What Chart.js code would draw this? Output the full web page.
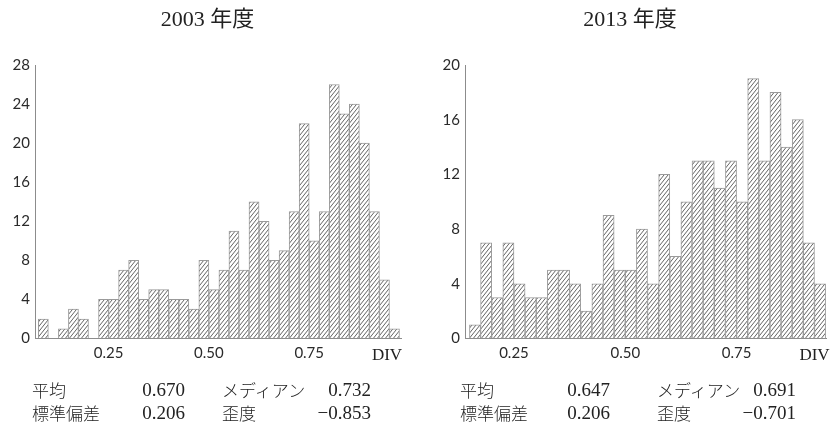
<!DOCTYPE html>
<html>
<head>
<meta charset="utf-8">
<script src="https://cdn.jsdelivr.net/npm/chart.js@4.4.1/dist/chart.umd.min.js"></script>
<style>
  html, body { margin: 0; padding: 0; background: #fff; }
  #wrap { position: relative; width: 832px; height: 424px; overflow: hidden; }
  #wrap canvas { position: absolute; top: 0; }
  .txt { position: absolute; white-space: nowrap; color: #222; line-height: 1; }
  .title { font-family: "Liberation Serif", "Noto Sans CJK JP", serif; font-size: 22px; transform: translate(-50%, -50%); }
  .axisname { font-family: "Liberation Serif", serif; font-size: 17px; transform: translate(-50%, -50%); }
  .jp { font-family: "Noto Sans CJK JP", sans-serif; font-size: 17px; font-weight: 300; transform: translateY(-50%); }
  .num { font-family: "Liberation Serif", serif; font-size: 19px; transform: translate(-100%, -50%); }
</style>
</head>
<body>
<div id="wrap">
  <canvas id="c2003" width="416" height="424" style="left:0"></canvas>
  <canvas id="c2013" width="416" height="424" style="left:416px"></canvas>
</div>
<script>
// Histogram bins (lower edge of first bin, common bin width)
const binWidth = 0.025;
const binStart2003 = 0.075;
const binStart2013 = 0.15;

// Frequencies per bin
const counts2003 = [2, 0, 1, 3, 2, 0, 4, 4, 7, 8, 4, 5, 5, 4, 4, 3, 8, 5, 7, 11,
                    7, 14, 12, 8, 9, 13, 22, 10, 13, 26, 23, 24, 20, 13, 6, 1];
const counts2013 = [1, 7, 3, 7, 4, 3, 3, 5, 5, 4, 2, 4, 9, 5, 5, 8, 4, 12, 6, 10,
                    13, 13, 11, 13, 10, 19, 13, 18, 14, 16, 7, 4];

// Axis ticks
const xTicks = [0.25, 0.50, 0.75];
const yTickStep = 4;
const yMax2003 = 28;
const yMax2013 = 20;

// Titles and summary statistics
const titles = ['2003 年度', '2013 年度'];
const axisName = 'DIV';
const statNames = ['平均', 'メディアン', '標準偏差', '歪度'];
const stats2003 = ['0.670', '0.732', '0.206', '−0.853'];
const stats2013 = ['0.647', '0.691', '0.206', '−0.701'];

function hatchPattern(ctx) {
  const w = 4, h = 5;
  const tile = document.createElement('canvas');
  tile.width = w; tile.height = h;
  const g = tile.getContext('2d');
  g.fillStyle = '#ffffff';
  g.fillRect(0, 0, w, h);
  g.strokeStyle = '#3c3c3c';
  g.lineWidth = 0.8;
  for (const dx of [-w, 0, w]) {
    g.beginPath();
    g.moveTo(dx - w, 2 * h);
    g.lineTo(dx + 2 * w, -h);
    g.stroke();
  }
  return ctx.createPattern(tile, 'repeat');
}

function makeChart(id, counts, start, yMax, area) {
  const canvas = document.getElementById(id);
  const ctx = canvas.getContext('2d');
  const points = counts.map((c, i) => ({ x: start + (i + 0.5) * binWidth, y: c }));
  return new Chart(ctx, {
    type: 'bar',
    data: {
      datasets: [{
        data: points,
        backgroundColor: hatchPattern(ctx),
        borderColor: '#9a9a9a',
        borderWidth: { left: 1, right: 1, top: 1, bottom: 0 },
        barPercentage: 1,
        categoryPercentage: 1
      }]
    },
    options: {
      responsive: false,
      animation: false,
      devicePixelRatio: 1,
      layout: { padding: { left: 0, right: area.padRight, top: area.top, bottom: 0 } },
      plugins: { legend: { display: false }, tooltip: { enabled: false } },
      scales: {
        x: {
          type: 'linear',
          offset: false,
          min: area.xMin,
          max: area.xMax,
          grid: { display: true, color: 'rgba(0,0,0,0)', drawTicks: false, offset: false },
          border: { display: true, color: '#8c8c8c', width: 1 },
          afterBuildTicks: s => { s.ticks = xTicks.map(v => ({ value: v })); },
          afterFit: s => { s.height = 424 - area.bottom; },
          ticks: {
            autoSkip: false,
            maxRotation: 0,
            padding: 6,
            color: '#2a2a2a',
            font: { family: 'Lato', size: 15 },
            callback: v => Number(v).toFixed(2)
          }
        },
        y: {
          min: 0,
          max: yMax,
          grid: { display: true, color: 'rgba(0,0,0,0)', drawTicks: false },
          border: { display: true, color: '#8c8c8c', width: 1 },
          afterFit: s => { s.width = area.left; },
          ticks: {
            stepSize: yTickStep,
            padding: 5,
            color: '#2a2a2a',
            font: { family: 'Lato', size: 15 }
          }
        }
      }
    }
  });
}

makeChart('c2003', counts2003, binStart2003, yMax2003,
  { left: 35, padRight: 14.5, top: 65, bottom: 338.5, xMin: 0.0667, xMax: 0.98 });
makeChart('c2013', counts2013, binStart2013, yMax2013,
  { left: 49, padRight: 5.5, top: 65, bottom: 338.5, xMin: 0.14, xMax: 0.952 });

// Titles, axis names and statistics as text
const wrap = document.getElementById('wrap');
function addText(cls, text, x, y) {
  const d = document.createElement('div');
  d.className = 'txt ' + cls;
  d.textContent = text;
  d.style.left = x + 'px';
  d.style.top = y + 'px';
  wrap.appendChild(d);
}
const panels = [
  { title: titles[0], tx: 207.5, divX: 387, stats: stats2003, cols: [32, 185, 222, 371] },
  { title: titles[1], tx: 630, divX: 814.5, stats: stats2013, cols: [460, 610, 657, 796] }
];
panels.forEach(p => {
  addText('title', p.title, p.tx, 19);
  addText('axisname', axisName, p.divX, 354);
  const rows = [389, 412];
  addText('jp', statNames[0], p.cols[0], rows[0]);
  addText('num', p.stats[0], p.cols[1], rows[0]);
  addText('jp', statNames[1], p.cols[2], rows[0]);
  addText('num', p.stats[1], p.cols[3], rows[0]);
  addText('jp', statNames[2], p.cols[0], rows[1]);
  addText('num', p.stats[2], p.cols[1], rows[1]);
  addText('jp', statNames[3], p.cols[2], rows[1]);
  addText('num', p.stats[3], p.cols[3], rows[1]);
});
</script>
</body>
</html>
